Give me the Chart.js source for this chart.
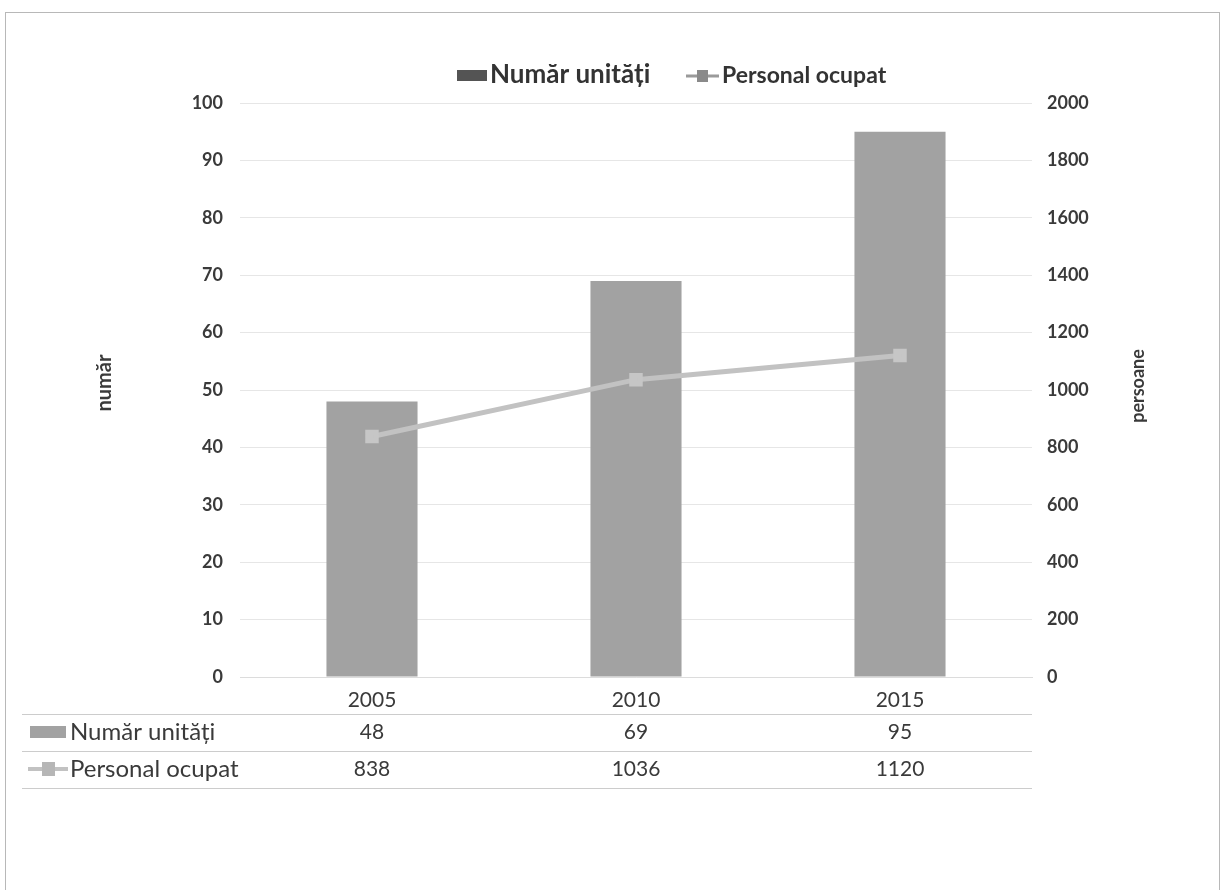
<!DOCTYPE html>
<html>
<head>
<meta charset="utf-8">
<script src="https://cdn.jsdelivr.net/npm/chart.js@4.4.1/dist/chart.umd.min.js"></script>
<style>
  html, body { margin: 0; padding: 0; background: #ffffff; }
  #wrap { width: 1223px; height: 890px; position: relative; }
</style>
</head>
<body>
<div id="wrap"><canvas id="chart" width="1223" height="890"></canvas></div>
<script>
// Categories and series
const years = ['2005', '2010', '2015'];
const unitsLabel = 'Număr unități';
const staffLabel = 'Personal ocupat';
const units = [48, 69, 95];
const staff = [838, 1036, 1120];
const leftTitle = 'număr';
const rightTitle = 'persoane';

const FONT = 'Lato, "Open Sans", "DejaVu Sans", sans-serif';
const TEXT = '#3a3a3a';
const BAR = '#a2a2a2';
const LINE = '#c2c2c2';

// Legend above the plot
const topLegend = {
  id: 'topLegend',
  afterDraw(chart) {
    const ctx = chart.ctx;
    ctx.save();
    ctx.textBaseline = 'middle';
    ctx.textAlign = 'left';
    // bar key
    ctx.fillStyle = '#545454';
    ctx.fillRect(457, 70, 30, 11);
    ctx.fillStyle = '#333333';
    ctx.font = 'bold 26px ' + FONT;
    ctx.fillText(unitsLabel, 490, 75);
    // line key
    ctx.strokeStyle = '#9a9a9a';
    ctx.lineWidth = 3;
    ctx.beginPath(); ctx.moveTo(686, 76); ctx.lineTo(719, 76); ctx.stroke();
    ctx.fillStyle = '#8a8a8a';
    ctx.fillRect(697, 70, 11, 12);
    ctx.fillStyle = '#333333';
    ctx.font = 'bold 23px ' + FONT;
    ctx.fillText(staffLabel, 722, 76);
    ctx.restore();
  }
};

// Rotated axis titles
const axisTitles = {
  id: 'axisTitles',
  afterDraw(chart) {
    const ctx = chart.ctx;
    ctx.save();
    ctx.fillStyle = TEXT;
    ctx.textAlign = 'center';
    ctx.textBaseline = 'middle';
    ctx.translate(105, 383);
    ctx.rotate(-Math.PI / 2);
    ctx.font = 'bold 20px ' + FONT;
    ctx.fillText(leftTitle, 0, 0);
    ctx.restore();
    ctx.save();
    ctx.fillStyle = TEXT;
    ctx.textAlign = 'center';
    ctx.textBaseline = 'middle';
    ctx.translate(1138, 386);
    ctx.rotate(-Math.PI / 2);
    ctx.font = 'bold 18px ' + FONT;
    ctx.fillText(rightTitle, 0, 0);
    ctx.restore();
  }
};

// Data table under the category axis
const dataTable = {
  id: 'dataTable',
  afterDraw(chart) {
    const ctx = chart.ctx;
    const x = chart.scales.x;
    const rows = [
      { label: unitsLabel, values: units, y: 732, key: 'bar' },
      { label: staffLabel, values: staff, y: 769, key: 'line' }
    ];
    ctx.save();
    // row rules
    ctx.strokeStyle = '#cccccc';
    ctx.lineWidth = 1;
    [714, 751, 788].forEach(yy => {
      ctx.beginPath(); ctx.moveTo(22, yy + 0.5); ctx.lineTo(chart.chartArea.right, yy + 0.5); ctx.stroke();
    });
    rows.forEach(r => {
      if (r.key === 'bar') {
        ctx.fillStyle = BAR;
        ctx.fillRect(30, r.y - 6, 36, 12);
      } else {
        ctx.strokeStyle = LINE;
        ctx.lineWidth = 4;
        ctx.beginPath(); ctx.moveTo(28, r.y); ctx.lineTo(68, r.y); ctx.stroke();
        ctx.fillStyle = '#b6b6b6';
        ctx.fillRect(42, r.y - 7, 13, 14);
      }
      ctx.fillStyle = TEXT;
      ctx.font = '24px ' + FONT;
      ctx.textAlign = 'left';
      ctx.textBaseline = 'middle';
      ctx.fillText(r.label, 70, r.y);
      ctx.textAlign = 'center';
      ctx.font = '21px ' + FONT;
      r.values.forEach((v, i) => {
        ctx.fillText(String(v), x.getPixelForValue(i), r.y);
      });
    });
    ctx.restore();
  }
};

// Thin outer frame
const frame = {
  id: 'frame',
  afterDraw(chart) {
    const ctx = chart.ctx;
    ctx.save();
    ctx.strokeStyle = '#b8b8b8';
    ctx.lineWidth = 1;
    ctx.strokeRect(5.5, 12.5, 1214, 900);
    ctx.restore();
  }
};

new Chart(document.getElementById('chart'), {
  data: {
    labels: years,
    datasets: [
      {
        type: 'line',
        label: staffLabel,
        data: staff,
        yAxisID: 'y1',
        borderColor: LINE,
        borderWidth: 5,
        pointStyle: 'rect',
        pointRadius: 6,
        pointBackgroundColor: '#c6c6c6',
        pointBorderColor: '#c6c6c6',
        tension: 0,
        order: 0
      },
      {
        type: 'bar',
        label: unitsLabel,
        data: units,
        yAxisID: 'y',
        backgroundColor: BAR,
        barPercentage: 0.345,
        categoryPercentage: 1.0,
        order: 1
      }
    ]
  },
  options: {
    responsive: false,
    animation: false,
    layout: { padding: { top: 103, left: 0, right: 0, bottom: 0 } },
    plugins: {
      legend: { display: false },
      tooltip: { enabled: false }
    },
    scales: {
      x: {
        grid: { display: false },
        border: { display: true, color: '#dcdcdc' },
        ticks: { color: TEXT, font: { family: FONT, size: 21 }, padding: 3 },
        afterFit(s) { s.height = 213; }
      },
      y: {
        position: 'left',
        min: 0, max: 100,
        ticks: { stepSize: 10, color: TEXT, font: { family: FONT, size: 18, weight: 'bold' }, padding: 17 },
        grid: { color: '#e6e6e6', drawTicks: false },
        border: { display: false },
        afterFit(s) { s.width = 240; }
      },
      y1: {
        position: 'right',
        min: 0, max: 2000,
        ticks: {
          stepSize: 200, color: TEXT, font: { family: FONT, size: 18, weight: 'bold' }, padding: 15,
          callback: v => String(v)
        },
        grid: { display: false, drawTicks: false },
        border: { display: false },
        afterFit(s) { s.width = 191; }
      }
    }
  },
  plugins: [topLegend, axisTitles, dataTable, frame]
});
</script>
</body>
</html>
